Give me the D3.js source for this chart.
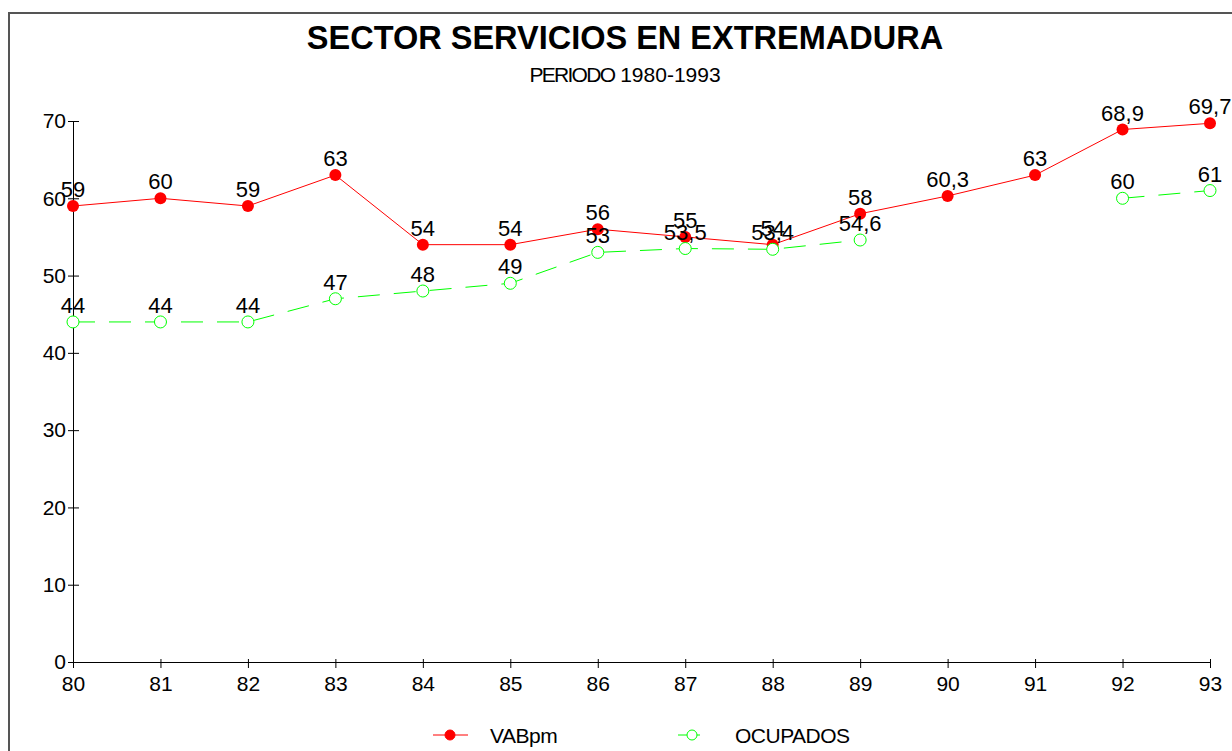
<!DOCTYPE html>
<html>
<head>
<meta charset="utf-8">
<script src="https://cdn.jsdelivr.net/npm/d3@7"></script>
<style>
  body { margin: 0; background: #ffffff; }
  svg { display: block; font-family: "Liberation Sans", Arial, sans-serif; }
</style>
</head>
<body>
<script>

// years on the x axis (80 = 1980)
var years = [80, 81, 82, 83, 84, 85, 86, 87, 88, 89, 90, 91, 92, 93];

// VABpm series
var vabpm = [59, 60, 59, 63, 54, 54, 56, 55, 54, 58, 60.3, 63, 68.9, 69.7];

// OCUPADOS series (no data for 90 and 91)
var ocupados = [44, 44, 44, 47, 48, 49, 53, 53.5, 53.4, 54.6, null, null, 60, 61];

// y tick values
var yTicks = [0, 10, 20, 30, 40, 50, 60, 70];

// sizes
var width = 1232;
var height = 751;

var svg = d3.select("body")
            .append("svg")
            .attr("width", width)
            .attr("height", height);

// frame around the chart (goes past right and bottom edge)
svg.append("rect")
   .attr("x", 9)
   .attr("y", 13)
   .attr("width", 1260)
   .attr("height", 800)
   .attr("fill", "none")
   .attr("stroke", "#555")
   .attr("stroke-width", 2);

// scales
var xScale = d3.scaleLinear()
               .domain([80, 93])
               .range([73, 1210]);

var yScale = d3.scaleLinear()
               .domain([0, 70])
               .range([662, 121]);

// comma as decimal mark
function fmt(d) {
  return String(d).replace(".", ",");
}

// y axis
var yAxis = d3.axisLeft(yScale)
              .tickValues(yTicks)
              .tickSize(6)
              .tickSizeOuter(0)
              .tickPadding(1)
              .tickFormat(d3.format("d"));

var gy = svg.append("g")
            .attr("transform", "translate(" + 73 + ",0)")
            .call(yAxis);

gy.selectAll(".tick line").attr("x1", 6).attr("x2", -5);
gy.selectAll(".tick text")
  .style("font-size", "21px")
  .attr("fill", "#000");

// x axis
var xAxis = d3.axisBottom(xScale)
              .tickValues(years)
              .tickSize(6)
              .tickSizeOuter(0)
              .tickPadding(8)
              .tickFormat(d3.format("d"));

var gx = svg.append("g")
            .attr("transform", "translate(0," + 662 + ")")
            .call(xAxis);

gx.selectAll(".tick line").attr("y1", -3).attr("y2", 6);
gx.selectAll(".tick text")
  .style("font-size", "21px")
  .attr("fill", "#000");

svg.selectAll(".domain").attr("stroke", "#000");

// lines
var lineVab = d3.line()
                .x(function(d, i) { return xScale(years[i]); })
                .y(function(d) { return yScale(d); });

var lineOcu = d3.line()
                .defined(function(d) { return d !== null; })
                .x(function(d, i) { return xScale(years[i]); })
                .y(function(d) { return yScale(d); });

svg.append("path")
   .datum(vabpm)
   .attr("d", lineVab)
   .attr("fill", "none")
   .attr("stroke", "#ff0000")
   .attr("stroke-width", 1);

svg.append("path")
   .datum(ocupados)
   .attr("d", lineOcu)
   .attr("fill", "none")
   .attr("stroke", "#00ff00")
   .attr("stroke-width", 1)
   .attr("stroke-dasharray", "22,14");

// markers
svg.selectAll("circle.vab")
   .data(vabpm)
   .enter()
   .append("circle")
   .attr("class", "vab")
   .attr("cx", function(d, i) { return xScale(years[i]); })
   .attr("cy", function(d) { return yScale(d); })
   .attr("r", 6)
   .attr("fill", "#ff0000");

var ocuPoints = ocupados.map(function(d, i) { return {year: years[i], value: d}; })
                        .filter(function(d) { return d.value !== null; });

svg.selectAll("circle.ocu")
   .data(ocuPoints)
   .enter()
   .append("circle")
   .attr("class", "ocu")
   .attr("cx", function(d) { return xScale(d.year); })
   .attr("cy", function(d) { return yScale(d.value); })
   .attr("r", 6)
   .attr("fill", "#ffffff")
   .attr("stroke", "#00ff00")
   .attr("stroke-width", 1);

// value labels
svg.selectAll("text.lvab")
   .data(vabpm)
   .enter()
   .append("text")
   .attr("class", "lvab")
   .attr("x", function(d, i) { return xScale(years[i]); })
   .attr("y", function(d) { return yScale(d) - 9; })
   .attr("text-anchor", "middle")
   .style("font-size", "22px")
   .text(fmt);

svg.selectAll("text.locu")
   .data(ocuPoints)
   .enter()
   .append("text")
   .attr("class", "locu")
   .attr("x", function(d) { return xScale(d.year); })
   .attr("y", function(d) { return yScale(d.value) - 9; })
   .attr("text-anchor", "middle")
   .style("font-size", "22px")
   .text(function(d) { return fmt(d.value); });

// title
svg.append("text")
   .attr("x", 625)
   .attr("y", 49)
   .attr("text-anchor", "middle")
   .style("font-size", "32.5px")
   .style("font-weight", "bold")
   .text("SECTOR SERVICIOS EN EXTREMADURA");

var sub = svg.append("text")
             .attr("x", 625)
             .attr("y", 82)
             .attr("text-anchor", "middle")
             .style("font-size", "21px");

sub.append("tspan")
   .style("letter-spacing", "-1.7px")
   .text("PERIODO");

sub.append("tspan")
   .text(" 1980-1993");

// legend
var legend = [
  {name: "VABpm", color: "#ff0000", fill: "#ff0000", x1: 433, x2: 468, cx: 450, tx: 490},
  {name: "OCUPADOS", color: "#00ff00", fill: "#ffffff", x1: 678, x2: 700, cx: 692, tx: 735}
];

legend.forEach(function(d) {
  svg.append("line")
     .attr("x1", d.x1)
     .attr("x2", d.x2)
     .attr("y1", 735)
     .attr("y2", 735)
     .attr("stroke", d.color);
  svg.append("circle")
     .attr("cx", d.cx)
     .attr("cy", 735)
     .attr("r", 5)
     .attr("fill", d.fill)
     .attr("stroke", d.color);
  svg.append("text")
     .attr("x", d.tx)
     .attr("y", 743)
     .style("font-size", "21px")
     .style("letter-spacing", "-0.5px")
     .text(d.name);
});

</script>
</body>
</html>
